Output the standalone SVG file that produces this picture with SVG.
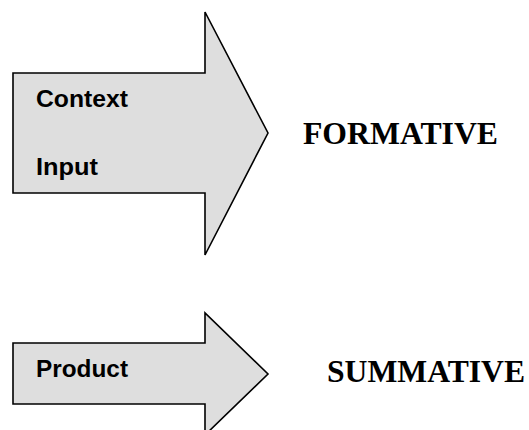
<svg xmlns="http://www.w3.org/2000/svg" width="529" height="430" viewBox="0 0 529 430">
  <style>
    .arrow { fill: #dedede; stroke: #000; stroke-width: 1.6; stroke-linejoin: miter; }
    .label { font-family: "Liberation Sans", Arial, sans-serif; font-weight: bold; font-size: 23.5px; fill: #000; }
    .stage { font-family: "Liberation Serif", "Times New Roman", serif; font-weight: bold; font-size: 31px; fill: #000; }
  </style>
  <rect width="529" height="430" fill="#fff"/>

  <g id="formative-arrow">
    <polygon class="arrow" points="13,73 205,73 205,12 268,133 205,255 205,193 13,193"/>
    <text class="label" x="36" y="107" textLength="92" lengthAdjust="spacingAndGlyphs">Context</text>
    <text class="label" x="36" y="175" textLength="62" lengthAdjust="spacingAndGlyphs">Input</text>
  </g>
  <g id="formative-label">
    <text class="stage" x="303" y="144" textLength="195" lengthAdjust="spacingAndGlyphs">FORMATIVE</text>
  </g>

  <g id="summative-arrow">
    <polygon class="arrow" points="13,343 205,343 205,313 268,374 205,435 205,404 13,404"/>
    <text class="label" x="36" y="377" textLength="92" lengthAdjust="spacingAndGlyphs">Product</text>
  </g>
  <g id="summative-label">
    <text class="stage" x="327" y="382" textLength="198" lengthAdjust="spacingAndGlyphs">SUMMATIVE</text>
  </g>
</svg>
